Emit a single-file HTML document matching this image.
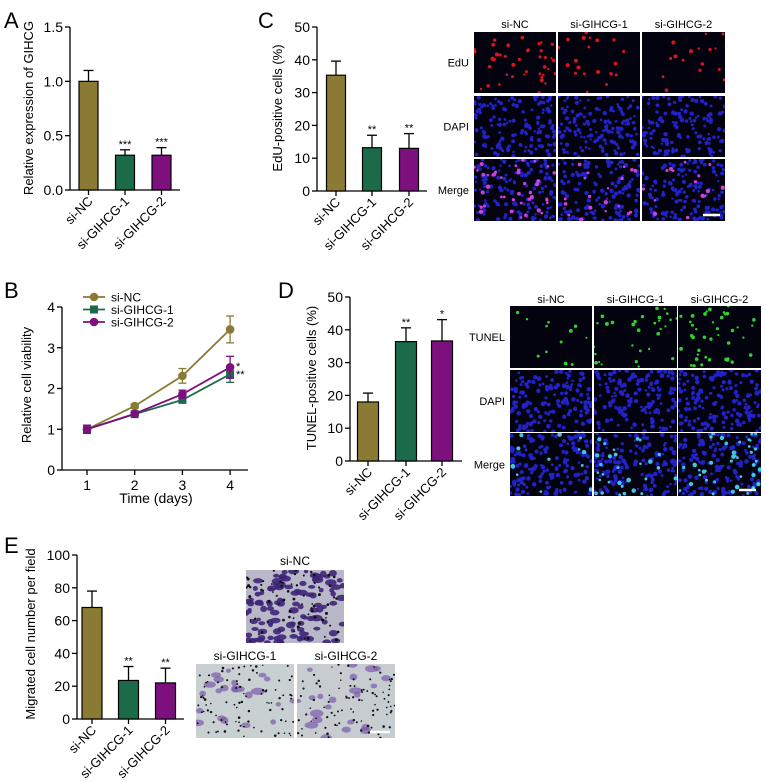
<!DOCTYPE html>
<html><head><meta charset="utf-8"><style>
html,body{margin:0;padding:0;background:#fff;}
svg{display:block;font-family:"Liberation Sans",Arial,sans-serif;}
</style></head><body>
<svg id="fig" width="766" height="781" viewBox="0 0 766 781" xmlns="http://www.w3.org/2000/svg"></svg>
<script>
// ---- data ----
const groups = ["si-NC","si-GIHCG-1","si-GIHCG-2"];
const colors = ["#8a7a34","#1b6b4b","#7d0f7e"];
const aValues = [1.0,0.32,0.32];
const aErrs = [0.10,0.05,0.07];
const aStars = ["","***","***"];
const aTicks = [0,0.5,1.0,1.5];
const aTickLabels = ["0.0","0.5","1.0","1.5"];
const cValues = [35.3,13.2,13.0];
const cErrs = [4.3,3.8,4.5];
const cStars = ["","**","**"];
const dValues = [18.0,36.4,36.6];
const dErrs = [2.7,4.2,6.5];
const dStars = ["","**","*"];
const pctTicks = [0,10,20,30,40,50];
const eValues = [68,23.5,22];
const eErrs = [10,8.5,9];
const eStars = ["","**","**"];
const eTicks = [0,20,40,60,80,100];
const bDays = [1,2,3,4];
const bNC = [1.0,1.57,2.31,3.45];
const bNCerr = [0.1,0.05,0.18,0.33];
const bG1 = [1.0,1.37,1.72,2.35];
const bG1err = [0.1,0.03,0.05,0.2];
const bG2 = [1.0,1.38,1.86,2.52];
const bG2err = [0.1,0.03,0.1,0.27];
const bTicks = [0,1,2,3,4];

const svg = document.getElementById('fig');
const NS = "http://www.w3.org/2000/svg";
function mk(tag, attrs, parent){ const e=document.createElementNS(NS,tag); for(const k in attrs) e.setAttribute(k,attrs[k]); (parent||svg).appendChild(e); return e; }
function txt(s, attrs, parent){ const e=mk('text',attrs,parent); e.textContent=s; return e; }

function panelLetter(s,x,y){
  const t=txt(s,{x:x,y:y,'font-size':22,fill:'#000'});
  
  
}

function barChart(o){
  const g=mk('g',{});
  
  
  const ys=v=>o.y0-(v/o.max)*(o.y0-o.yTop);
  mk('line',{x1:o.ax,y1:o.yTop,x2:o.ax,y2:o.y0,stroke:'#000','stroke-width':1.3},g);
  mk('line',{x1:o.ax,y1:o.y0,x2:o.xEnd,y2:o.y0,stroke:'#000','stroke-width':1.3},g);
  o.ticks.forEach((t,i)=>{
    const y=ys(t);
    mk('line',{x1:o.ax-5,y1:y,x2:o.ax,y2:y,stroke:'#000','stroke-width':1.3},g);
    const l=txt(o.tickLabels?o.tickLabels[i]:String(t),{x:o.ax-7,y:y+5,'font-size':14,'text-anchor':'end',fill:'#000'},g);
    
    
  });
  o.values.forEach((v,i)=>{
    const cx=o.centers[i], w=o.bw, top=ys(v), et=ys(v+o.errs[i]);
    mk('line',{x1:cx,y1:top,x2:cx,y2:et,stroke:'#000','stroke-width':1.3},g);
    mk('line',{x1:cx-5,y1:et,x2:cx+5,y2:et,stroke:'#000','stroke-width':1.3},g);
    const r=mk('rect',{x:cx-w/2,y:top,width:w,height:o.y0-top,fill:colors[i],stroke:'#000','stroke-width':1.2},g);
    
    
    mk('line',{x1:cx,y1:o.y0,x2:cx,y2:o.y0+5,stroke:'#000','stroke-width':1.3},g);
    if(o.stars[i]){ const s=txt(o.stars[i],{x:cx,y:et-2,'font-size':11,'text-anchor':'middle',fill:'#000'},g);
      
       }
    const lx=cx+5, ly=o.y0+12;
    const xl=txt(groups[i],{x:lx,y:ly,'font-size':13,'text-anchor':'end',fill:'#000',transform:`rotate(-45 ${lx} ${ly})`},g);
    
    
  });
  const yt=txt(o.title,{x:o.tx,y:o.ty,'font-size':13,'text-anchor':'middle',fill:'#000',transform:`rotate(-90 ${o.tx} ${o.ty})`},g);
  
  
}

// ---- micrograph generator (decorative) ----
let seed=12345;
function rnd(){ seed=(seed*1103515245+12345)%2147483648; return seed/2147483648; }
function micro(x,y,w,h,bg,layers,name){
  const g=mk('g',{});
  
  
  const cid='clip'+Math.round(x)+'_'+Math.round(y);
  const cp=mk('clipPath',{id:cid},g); mk('rect',{x:x,y:y,width:w,height:h},cp);
  const inner=mk('g',{'clip-path':'url(#'+cid+')'},g);
  mk('rect',{x:x,y:y,width:w,height:h,fill:bg},inner);
  layers.forEach(L=>{
    for(let i=0;i<L.n;i++){
      const cx=x+rnd()*w, cy=y+rnd()*h, r=L.r*(0.7+rnd()*0.6);
      if(L.blob) mk('ellipse',{cx:cx,cy:cy,rx:r*(1+rnd()),ry:r,fill:L.c,opacity:L.o||1},inner);
      else mk('circle',{cx:cx,cy:cy,r:r,fill:L.c,opacity:L.o||1},inner);
    }
  });
}
function grid(cols,rows,colNames,rowNames,rowLayers,name,labelX,headerY){
  colNames.forEach((c,i)=>{
    const t=txt(c,{x:(cols[i][0]+cols[i][1])/2,y:headerY,'font-size':11,'text-anchor':'middle',fill:'#000'});
    
    
  });
  rowNames.forEach((r,j)=>{
    const t=txt(r,{x:labelX,y:(rows[j][0]+rows[j][1])/2+4,'font-size':11,'text-anchor':'end',fill:'#000'});
    
    
    cols.forEach((c,i)=>{
      micro(c[0],rows[j][0],c[1]-c[0],rows[j][1]-rows[j][0],'#030310',rowLayers[j][i],name+'-'+r.toLowerCase()+'-'+(i+1));
    });
  });
  const lc=cols[cols.length-1], lr=rows[rows.length-1];
  mk('line',{x1:lc[1]-22,y1:lr[1]-6,x2:lc[1]-5,y2:lr[1]-6,stroke:'#fff','stroke-width':2.5});
}

// ---- Panel A ----
panelLetter('A',4,28);
barChart({name:'chart-a',ax:70,y0:190,yTop:27,max:1.5,xEnd:180,ticks:aTicks,tickLabels:aTickLabels,
  centers:[88.5,125,161.5],bw:19,values:aValues,errs:aErrs,stars:aStars,title:'Relative expression of GIHCG',tx:33,ty:108});

// ---- Panel C ----
panelLetter('C',258,28);
barChart({name:'chart-c',ax:317,y0:191,yTop:27,max:50,xEnd:427,ticks:pctTicks,
  centers:[336,372,409],bw:19,values:cValues,errs:cErrs,stars:cStars,title:'EdU-positive cells (%)',tx:282,ty:108});
const blue={n:140,r:1.7,c:'#2222c8'};
function redL(n){return {n:n,r:1.6,c:'#d8141c'};}
function magL(n){return {n:n,r:1.7,c:'#d040d8'};}
grid([[474,556],[558,640],[642,725]],[[32,93],[96,157],[159,221]],groups,['EdU','DAPI','Merge'],
  [[[redL(40)],[redL(20)],[redL(16)]],[[blue],[blue],[blue]],[[blue,magL(40)],[blue,magL(20)],[blue,magL(16)]]],
  'edu-image',469,28);

// ---- Panel B ----
panelLetter('B',4,298);
(function(){
  const g=mk('g',{});
  
  
  const ax=62,y0=470,yTop=307,max=4;
  const xs=d=>87+(d-1)*47.7, ys=v=>y0-(v/max)*(y0-yTop);
  mk('line',{x1:ax,y1:yTop,x2:ax,y2:y0,stroke:'#000','stroke-width':1.3},g);
  mk('line',{x1:ax,y1:y0,x2:248,y2:y0,stroke:'#000','stroke-width':1.3},g);
  bTicks.forEach(t=>{ mk('line',{x1:ax-5,y1:ys(t),x2:ax,y2:ys(t),stroke:'#000','stroke-width':1.3},g);
    const l=txt(String(t),{x:ax-7,y:ys(t)+5,'font-size':14,'text-anchor':'end'},g);
    
     });
  bDays.forEach(d=>{ mk('line',{x1:xs(d),y1:y0,x2:xs(d),y2:y0+5,stroke:'#000','stroke-width':1.3},g);
    const l=txt(String(d),{x:xs(d),y:y0+20,'font-size':14,'text-anchor':'middle'},g);
    
     });
  const xt=txt('Time (days)',{x:156,y:503,'font-size':14,'text-anchor':'middle'},g);
  
  
  const yt=txt('Relative cell viability',{x:31,y:385,'font-size':13,'text-anchor':'middle',transform:'rotate(-90 31 385)'},g);
  
  
  const series=[[bNC,bNCerr],[bG1,bG1err],[bG2,bG2err]];
  function marker(i,x,y,par){
    if(i===1) return mk('rect',{x:x-4,y:y-4,width:8,height:8,fill:colors[i]},par);
    return mk('circle',{cx:x,cy:y,r:4.3,fill:colors[i]},par);
  }
  series.forEach((s,i)=>{
    const sg=mk('g',{},g);
    
    
    mk('polyline',{points:bDays.map((d,k)=>xs(d)+','+ys(s[0][k])).join(' '),fill:'none',stroke:colors[i],'stroke-width':1.8},sg);
    bDays.forEach((d,k)=>{
      const x=xs(d),a=ys(s[0][k]+s[1][k]),b=ys(s[0][k]-s[1][k]);
      mk('line',{x1:x,y1:a,x2:x,y2:b,stroke:colors[i],'stroke-width':1.3},sg);
      mk('line',{x1:x-4,y1:a,x2:x+4,y2:a,stroke:colors[i],'stroke-width':1.3},sg);
      mk('line',{x1:x-4,y1:b,x2:x+4,y2:b,stroke:colors[i],'stroke-width':1.3},sg);
      const m=marker(i,x,ys(s[0][k]),sg);
      
      
    });
    const ly=297+i*12.5;
    const lg=mk('g',{},g);
    
    
    mk('line',{x1:83,y1:ly,x2:105,y2:ly,stroke:colors[i],'stroke-width':1.8},lg);
    marker(i,94,ly,lg);
    txt(groups[i],{x:111,y:ly+4.5,'font-size':12},lg);
  });
  txt('*',{x:236,y:370,'font-size':11},g);
  txt('**',{x:236,y:378,'font-size':11},g);
})();

// ---- Panel D ----
panelLetter('D',278,298);
barChart({name:'chart-d',ax:350,y0:461,yTop:297,max:50,xEnd:462,ticks:pctTicks,
  centers:[368,406,442],bw:21,values:dValues,errs:dErrs,stars:dStars,title:'TUNEL-positive cells (%)',tx:316,ty:378});
function grn(n){return {n:n,r:1.5,c:'#30d030'};}
function cyan(n){return {n:n,r:1.8,c:'#40c8e0'};}
const blueD={n:150,r:1.8,c:'#2222c8'};
grid([[510,592],[594,677],[678,761]],[[306,368],[370,432],[433,496]],groups,['TUNEL','DAPI','Merge'],
  [[[grn(12)],[grn(30)],[grn(40)]],[[blueD],[blueD],[blueD]],[[blueD,cyan(12)],[blueD,cyan(30)],[blueD,cyan(40)]]],
  'tunel-image',505,303);

// ---- Panel E ----
panelLetter('E',4,553);
barChart({name:'chart-e',ax:77,y0:719,yTop:555,max:100,xEnd:184,ticks:eTicks,
  centers:[92,128.5,165.5],bw:20,values:eValues,errs:eErrs,stars:eStars,title:'Migrated cell number per field',tx:35,ty:634});
micro(246,570,98,73,'#b9b8c8',[{n:110,r:2.6,c:'#3e2578',blob:1,o:0.9},{n:70,r:1.2,c:'#111'}],'transwell-si-nc');
micro(196,664,98,74,'#c9d0d2',[{n:22,r:3,c:'#7a5aaa',blob:1,o:0.7},{n:90,r:1,c:'#111'}],'transwell-si-gihcg-1');
micro(297,664,98,74,'#c6ccd0',[{n:22,r:3,c:'#7a5aaa',blob:1,o:0.7},{n:90,r:1,c:'#111'}],'transwell-si-gihcg-2');
mk('line',{x1:370,y1:732,x2:390,y2:732,stroke:'#fff','stroke-width':2.5});
[['si-NC',295,565],['si-GIHCG-1',245,660],['si-GIHCG-2',346,660]].forEach(a=>{
  const t=txt(a[0],{x:a[1],y:a[2],'font-size':12,'text-anchor':'middle'});
  
  
});
</script>
</body></html>
